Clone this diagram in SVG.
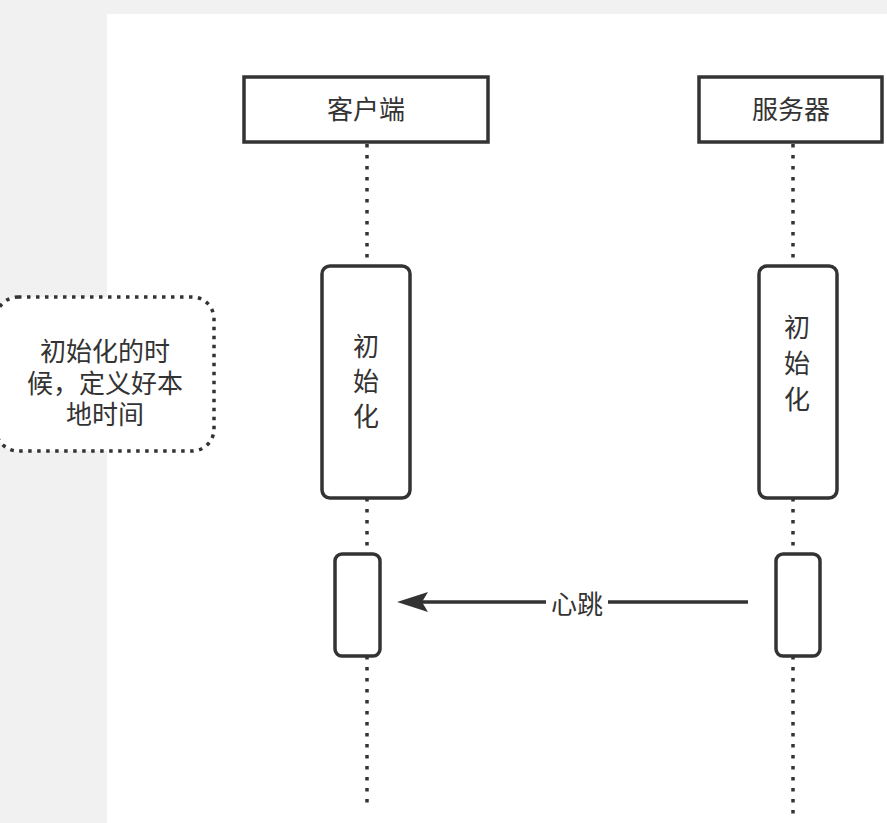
<svg xmlns="http://www.w3.org/2000/svg" width="887" height="823" viewBox="0 0 887 823">
<defs>
<style>
.box{fill:#fff;stroke:#333;stroke-width:3.5}
.act{fill:#fff;stroke:#333;stroke-width:3.5}
.life{stroke:#333;stroke-width:3.5;stroke-dasharray:3.5 7.5;fill:none}
.note{fill:#fff;stroke:#333;stroke-width:3.5;stroke-dasharray:3.5 5.5}
text{font-family:"Noto Sans CJK SC","Noto Sans",sans-serif;fill:#333;font-size:26px;text-anchor:middle}
</style>
</defs>
<rect x="0" y="0" width="887" height="823" fill="#f1f1f1"/>
<rect x="107" y="14" width="780" height="809" fill="#fff"/>
<g id="connectors">
<line class="life" x1="367" y1="144" x2="367" y2="265"/>
<line class="life" x1="367" y1="498" x2="367" y2="553"/>
<line class="life" x1="367" y1="656" x2="367" y2="806"/>
<line class="life" x1="793" y1="144" x2="793" y2="265"/>
<line class="life" x1="793" y1="498" x2="793" y2="553"/>
<line class="life" x1="793" y1="656" x2="793" y2="816"/>
<line x1="748" y1="602" x2="420" y2="602" stroke="#333" stroke-width="3.5"/>
<path d="M397,602 L428,592 L422,602 L428,612 Z" fill="#333"/>
<rect x="546" y="588" width="62" height="28" fill="#fff"/>
<text x="577" y="614">心跳</text>
</g>
<g id="client">
<rect class="box" x="244" y="77" width="244" height="65"/>
<text x="366" y="119">客户端</text>
</g>
<g id="server">
<rect class="box" x="699" y="77" width="183" height="65"/>
<text x="791" y="119">服务器</text>
</g>
<g id="client-init">
<rect class="act" x="322" y="266" width="88" height="232" rx="8"/>
<text x="366" y="356">初</text>
<text x="366" y="391">始</text>
<text x="366" y="426">化</text>
</g>
<g id="server-init">
<rect class="act" x="759" y="266" width="78" height="232" rx="8"/>
<text x="797" y="337">初</text>
<text x="797" y="373">始</text>
<text x="797" y="409">化</text>
</g>
<g id="client-hb">
<rect class="act" x="335" y="554" width="45" height="102" rx="7"/>
</g>
<g id="server-hb">
<rect class="act" x="776" y="554" width="44" height="102" rx="7"/>
</g>
<g id="note">
<rect class="note" x="-4" y="297" width="218" height="154" rx="22"/>
<text x="105" y="361">初始化的时</text>
<text x="105" y="393">候，定义好本</text>
<text x="105" y="424">地时间</text>
</g>
</svg>
